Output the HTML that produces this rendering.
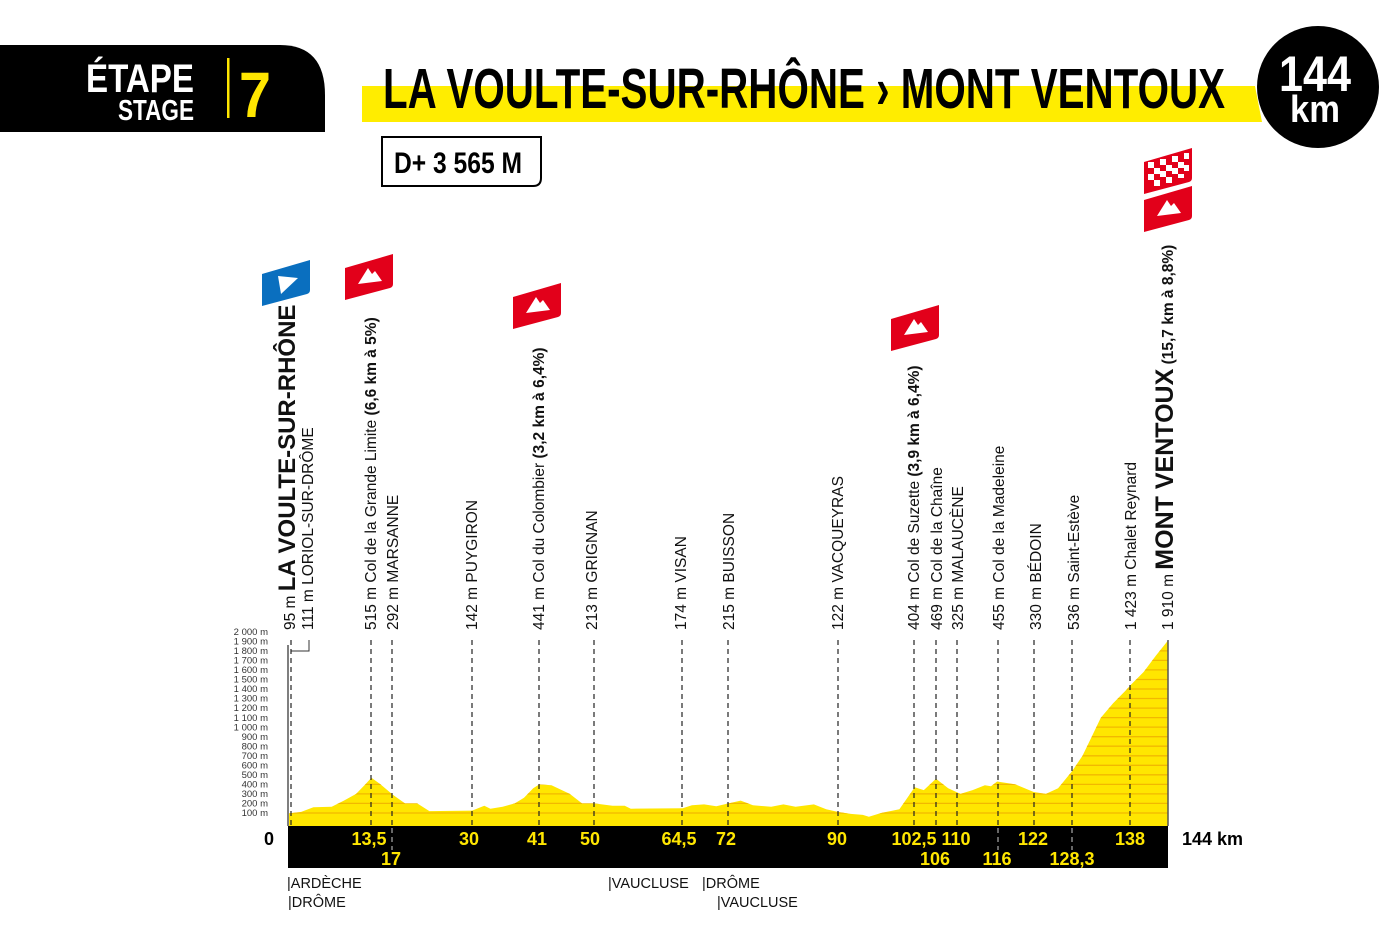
<!DOCTYPE html>
<html><head><meta charset="utf-8"><style>
html,body{margin:0;padding:0;background:#fff;}
svg{display:block;}
text{font-family:"Liberation Sans",sans-serif;}
</style></head><body>
<svg width="1386" height="936" viewBox="0 0 1386 936" xmlns="http://www.w3.org/2000/svg">
<defs>
  <g id="flagR">
    <path d="M0,14 L48,0 L48,30 Q48,33 45,34 L0,46 Z" fill="#e2001a"/>
    <path d="M13,30 L23,14 L27,20 L30,17 L37,27 Z" fill="#fff"/>
  </g>
  <clipPath id="prof">
    <path id="pp" d="M289,826 L289,813.4 L301.2,811.9 L313.4,807.3 L331.7,806.8 L343.9,800.6 L356.1,793.9 L365.3,784.4 L371.4,777.7 L380.6,784.4 L392.8,794.7 L405,803.4 L417.2,803.4 L429.4,811.1 L472.1,810.6 L484.3,805.8 L490.4,808.7 L502.6,806.8 L514.8,803.4 L524,797.7 L533.2,788.2 L539.3,784.4 L551.5,785.3 L569.8,793.9 L582,803.4 L594.2,803.4 L612.5,805.8 L624.7,805.8 L630.8,808.7 L682.7,808.2 L691.9,805.3 L704.1,804.4 L716.3,806.3 L728.5,803.4 L740.7,800.6 L752.9,805.3 L771.2,806.8 L783.4,804.4 L795.6,806.8 L813.9,804.4 L826.2,809.2 L838.4,812 L850.6,813.9 L862.8,814.9 L868.9,816.8 L881.1,813 L899.4,809.2 L914.7,787.2 L923.8,790.1 L936,778.7 L948.2,788.2 L960.4,793.9 L972.6,790.1 L984.9,785.3 L991,786.3 L997.1,781.5 L1015.4,784.4 L1033.7,792 L1045.9,793.9 L1058.1,788.2 L1072.2,771 L1082.5,755.8 L1091.7,736.7 L1100.8,717.7 L1113,703.4 L1125.2,691 L1131.4,684.3 L1143.6,672 L1155.8,655.7 L1168,640.5 L1168,826 Z"/>
  </clipPath>
</defs>

<!-- Header -->
<path d="M0,45 L280,45 Q325,45 325,95 L325,132 L0,132 Z" fill="#000"/>
<text x="194" y="92" font-size="40" font-weight="bold" fill="#fff" text-anchor="end" textLength="108" lengthAdjust="spacingAndGlyphs">ÉTAPE</text>
<text x="194" y="120" font-size="29" font-weight="bold" fill="#fff" text-anchor="end" textLength="76" lengthAdjust="spacingAndGlyphs">STAGE</text>
<rect x="227" y="58" width="2.5" height="60" fill="#ffe600"/>
<text x="239" y="117" font-size="64" font-weight="bold" fill="#ffe600" textLength="32" lengthAdjust="spacingAndGlyphs">7</text>

<path d="M362,86 L1255,86 L1262,122 L362,122 Z" fill="#ffed00"/>
<text x="383" y="108" font-size="57" font-weight="bold" fill="#000" textLength="842" lengthAdjust="spacingAndGlyphs">LA VOULTE-SUR-RHÔNE › MONT VENTOUX</text>

<circle cx="1318" cy="87" r="61" fill="#000"/>
<text x="1315" y="91" font-size="50" font-weight="bold" fill="#fff" text-anchor="middle" textLength="72" lengthAdjust="spacingAndGlyphs">144</text>
<text x="1315" y="122" font-size="38" font-weight="bold" fill="#fff" text-anchor="middle" textLength="50" lengthAdjust="spacingAndGlyphs">km</text>

<path d="M382,137 L541,137 L541,178 Q541,186 533,186 L382,186 Z" fill="#fff" stroke="#000" stroke-width="2"/>
<text x="394" y="173" font-size="30" font-weight="bold" fill="#000" textLength="128" lengthAdjust="spacingAndGlyphs">D+ 3 565 M</text>

<!-- Flags -->
<g transform="translate(262,260)">
  <path d="M0,14 L48,0 L48,30 Q48,33 45,34 L0,46 Z" fill="#0a6fbf"/>
  <path d="M16,16 L36,18 L19,34 Z" fill="#fff"/>
</g>
<use href="#flagR" x="345" y="254"/>
<use href="#flagR" x="513" y="283"/>
<use href="#flagR" x="891" y="305"/>
<use href="#flagR" x="1144" y="186"/>
<g transform="translate(1144,148)">
  <path d="M0,14 L48,0 L48,30 Q48,33 45,34 L0,46 Z" fill="#e2001a"/>
  <g fill="#fff">
    <rect x="4" y="14" width="6" height="6"/><rect x="16" y="11" width="6" height="6"/><rect x="28" y="8" width="6" height="6"/><rect x="40" y="5" width="5" height="6"/>
    <rect x="10" y="20" width="6" height="6"/><rect x="22" y="17" width="6" height="6"/><rect x="34" y="14" width="6" height="6"/>
    <rect x="4" y="26" width="6" height="6"/><rect x="16" y="23" width="6" height="6"/><rect x="28" y="20" width="6" height="6"/><rect x="40" y="17" width="5" height="6"/>
    <rect x="10" y="32" width="6" height="6"/><rect x="22" y="29" width="6" height="6"/><rect x="34" y="26" width="6" height="4"/>
  </g>
</g>

<!-- Profile fill -->
<use href="#pp" fill="#ffe600"/>
<g clip-path="url(#prof)" stroke="#f2b800" stroke-width="1.3">
  <line x1="288" x2="1170" y1="813" y2="813"/><line x1="288" x2="1170" y1="803.4" y2="803.4"/>
  <line x1="288" x2="1170" y1="793.9" y2="793.9"/><line x1="288" x2="1170" y1="784.4" y2="784.4"/>
  <line x1="288" x2="1170" y1="774.8" y2="774.8"/><line x1="288" x2="1170" y1="765.3" y2="765.3"/>
  <line x1="288" x2="1170" y1="755.8" y2="755.8"/><line x1="288" x2="1170" y1="746.2" y2="746.2"/>
  <line x1="288" x2="1170" y1="736.7" y2="736.7"/><line x1="288" x2="1170" y1="727.1" y2="727.1"/>
  <line x1="288" x2="1170" y1="717.6" y2="717.6"/><line x1="288" x2="1170" y1="708.1" y2="708.1"/>
  <line x1="288" x2="1170" y1="698.5" y2="698.5"/><line x1="288" x2="1170" y1="689" y2="689"/>
  <line x1="288" x2="1170" y1="679.5" y2="679.5"/><line x1="288" x2="1170" y1="669.9" y2="669.9"/>
  <line x1="288" x2="1170" y1="660.4" y2="660.4"/><line x1="288" x2="1170" y1="650.9" y2="650.9"/>
  <line x1="288" x2="1170" y1="641.3" y2="641.3"/>
</g>

<!-- Y axis -->
<line x1="288" y1="645" x2="288" y2="826" stroke="#555" stroke-width="1.5"/>
<path d="M291,651 L309,651 L309,640" fill="none" stroke="#333" stroke-width="1"/>
<g font-size="9.5" fill="#333" text-anchor="end">
  <text x="268" y="635">2 000 m</text><text x="268" y="644.5">1 900 m</text><text x="268" y="654">1 800 m</text>
  <text x="268" y="663.6">1 700 m</text><text x="268" y="673.1">1 600 m</text><text x="268" y="682.6">1 500 m</text>
  <text x="268" y="692.2">1 400 m</text><text x="268" y="701.7">1 300 m</text><text x="268" y="711.2">1 200 m</text>
  <text x="268" y="720.8">1 100 m</text><text x="268" y="730.3">1 000 m</text><text x="268" y="739.8">900 m</text>
  <text x="268" y="749.4">800 m</text><text x="268" y="758.9">700 m</text><text x="268" y="768.4">600 m</text>
  <text x="268" y="778">500 m</text><text x="268" y="787.5">400 m</text><text x="268" y="797">300 m</text>
  <text x="268" y="806.6">200 m</text><text x="268" y="816.1">100 m</text>
</g>

<!-- Dashed lines -->
<g stroke="#222" stroke-width="1.2" stroke-dasharray="5,4">
  <line x1="291" y1="640" x2="291" y2="826"/>
  <line x1="371" y1="640" x2="371" y2="826"/>
  <line x1="392" y1="640" x2="392" y2="868"/>
  <line x1="472" y1="640" x2="472" y2="826"/>
  <line x1="539" y1="640" x2="539" y2="826"/>
  <line x1="594" y1="640" x2="594" y2="826"/>
  <line x1="682" y1="640" x2="682" y2="826"/>
  <line x1="728" y1="640" x2="728" y2="826"/>
  <line x1="838" y1="640" x2="838" y2="826"/>
  <line x1="914" y1="640" x2="914" y2="826"/>
  <line x1="936" y1="640" x2="936" y2="826"/>
  <line x1="957" y1="640" x2="957" y2="826"/>
  <line x1="998" y1="640" x2="998" y2="868"/>
  <line x1="1034" y1="640" x2="1034" y2="826"/>
  <line x1="1072" y1="640" x2="1072" y2="868"/>
  <line x1="1130" y1="640" x2="1130" y2="826"/>
</g>
<line x1="1168" y1="640" x2="1168" y2="826" stroke="#555" stroke-width="1.5"/>

<!-- Vertical labels -->
<g font-size="15.5" fill="#111">
  <text transform="translate(295,630) rotate(-90)">95 m <tspan font-size="24" font-weight="bold">LA VOULTE-SUR-RHÔNE</tspan></text>
  <text transform="translate(313,630) rotate(-90)">111 m LORIOL-SUR-DRÔME</text>
  <text transform="translate(376,630) rotate(-90)">515 m Col de la Grande Limite <tspan font-weight="bold">(6,6 km à 5%)</tspan></text>
  <text transform="translate(398,630) rotate(-90)">292 m MARSANNE</text>
  <text transform="translate(477,630) rotate(-90)">142 m PUYGIRON</text>
  <text transform="translate(544,630) rotate(-90)">441 m Col du Colombier <tspan font-weight="bold">(3,2 km à 6,4%)</tspan></text>
  <text transform="translate(597,630) rotate(-90)">213 m GRIGNAN</text>
  <text transform="translate(686,630) rotate(-90)">174 m VISAN</text>
  <text transform="translate(734,630) rotate(-90)">215 m BUISSON</text>
  <text transform="translate(843,630) rotate(-90)">122 m VACQUEYRAS</text>
  <text transform="translate(919,630) rotate(-90)">404 m Col de Suzette <tspan font-weight="bold">(3,9 km à 6,4%)</tspan></text>
  <text transform="translate(942,630) rotate(-90)">469 m Col de la Chaîne</text>
  <text transform="translate(963,630) rotate(-90)">325 m MALAUCÈNE</text>
  <text transform="translate(1004,630) rotate(-90)">455 m Col de la Madeleine</text>
  <text transform="translate(1041,630) rotate(-90)">330 m BÉDOIN</text>
  <text transform="translate(1079,630) rotate(-90)">536 m Saint-Estève</text>
  <text transform="translate(1136,630) rotate(-90)">1 423 m Chalet Reynard</text>
  <text transform="translate(1173,630) rotate(-90)">1 910 m <tspan font-size="25" font-weight="bold">MONT VENTOUX</tspan> <tspan font-weight="bold">(15,7 km à 8,8%)</tspan></text>
</g>

<!-- Distance bar -->
<rect x="288" y="826" width="880" height="42" fill="#000"/>
<g stroke="#aaa" stroke-width="1.2" stroke-dasharray="5,4">
  <line x1="392" y1="828" x2="392" y2="850"/><line x1="998" y1="828" x2="998" y2="850"/><line x1="1072" y1="828" x2="1072" y2="850"/>
</g>
<g font-size="18" font-weight="bold" fill="#ffe600" text-anchor="middle">
  <text x="369" y="845">13,5</text><text x="391" y="865">17</text>
  <text x="469" y="845">30</text><text x="537" y="845">41</text><text x="590" y="845">50</text>
  <text x="679" y="845">64,5</text><text x="726" y="845">72</text><text x="837" y="845">90</text>
  <text x="914" y="845">102,5</text><text x="956" y="845">110</text><text x="935" y="865">106</text>
  <text x="997" y="865">116</text><text x="1033" y="845">122</text><text x="1072" y="865">128,3</text>
  <text x="1130" y="845">138</text>
</g>
<text x="264" y="845" font-size="18" font-weight="bold" fill="#000">0</text>
<text x="1182" y="845" font-size="18" font-weight="bold" fill="#000">144 km</text>

<!-- Regions -->
<g font-size="14.5" fill="#111">
  <text x="287" y="888">|ARDÈCHE</text>
  <text x="288" y="907">|DRÔME</text>
  <text x="608" y="888">|VAUCLUSE</text>
  <text x="702" y="888">|DRÔME</text>
  <text x="717" y="907">|VAUCLUSE</text>
</g>
</svg>
</body></html>
